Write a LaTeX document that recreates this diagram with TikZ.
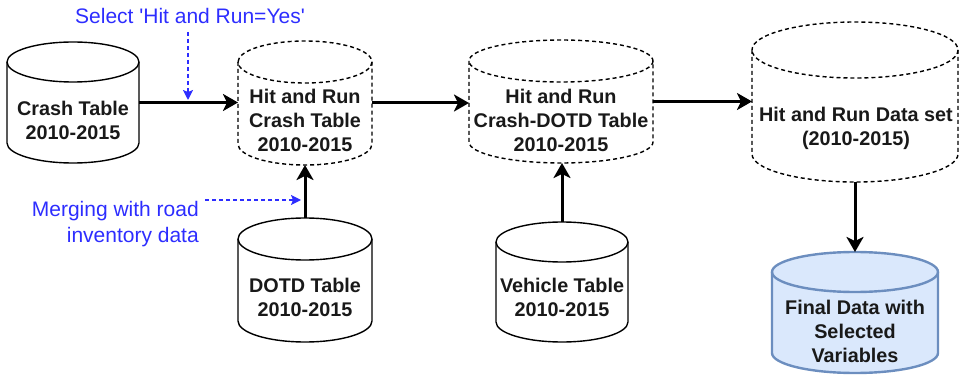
\documentclass[tikz,border=0pt]{standalone}
\usepackage{fontspec}
\setmainfont{Liberation Sans}
\usetikzlibrary{arrows.meta,calc}
\definecolor{blu}{RGB}{45,45,255}
\definecolor{finfill}{HTML}{DAE8FC}
\definecolor{finline}{HTML}{6C8EBF}
\tikzset{
  solidcyl/.style={draw=black,line width=1.4pt},
  dashcyl/.style={draw=black,line width=1.4pt,dash pattern=on 4pt off 3pt},
  fincyl/.style={draw=finline,fill=finfill,line width=2.4pt},
  lbl/.style={font=\bfseries\fontsize{19.8}{24}\selectfont,align=center,inner sep=0pt,text=black!90},
  note/.style={font=\fontsize{21}{26}\selectfont,text=blu,inner sep=0pt},
  arr/.style={line width=3pt,-{Stealth[length=15pt,width=17pt,inset=4pt]}},
  bluarr/.style={blu,line width=1.4pt,dash pattern=on 4pt off 3pt,-{Stealth[length=10pt,width=10pt,inset=2pt]}}
}
% #1 style, #2 name, #3 cx, #4 top (px from top), #5 width, #6 height, #7 ry
\newcommand\dbcyl[7]{%
  \pgfmathsetmacro\crx{#5/2}%
  \path[#1] (#3-\crx,378-#4-#7) -- (#3-\crx,378-#4-#6+#7)
    arc[start angle=180,end angle=360,x radius=\crx,y radius=#7]
    -- (#3+\crx,378-#4-#7)
    arc[start angle=0,end angle=180,x radius=\crx,y radius=#7] -- cycle;
  \path[#1,fill=none] (#3+\crx,378-#4-#7)
    arc[start angle=0,end angle=-180,x radius=\crx,y radius=#7];
  \node[minimum width=#5,minimum height=#6,inner sep=0pt,outer sep=0pt] (#2) at (#3,378-#4-#6/2) {};
}
\begin{document}
\begin{tikzpicture}[x=1pt,y=1pt]
\useasboundingbox (0,0) rectangle (961,378);
% cylinders
\dbcyl{solidcyl}{crash}{73}{42}{132}{121}{20}
\dbcyl{dashcyl}{hrc}{305}{41}{134}{124}{21}
\dbcyl{dashcyl}{hrd}{561}{40}{184}{123}{21}
\dbcyl{dashcyl}{ds}{855}{22}{206}{160}{28}
\dbcyl{solidcyl}{dotd}{305}{218}{134}{124}{21}
\dbcyl{solidcyl}{veh}{562}{222}{132}{120}{20}
\dbcyl{fincyl}{fin}{855}{252}{166}{121}{20}
% labels
\node[lbl] (crashtxt) at (73,378-120.5) {Crash Table\\2010-2015};
\node[lbl] (hrctxt) at (305,378-120) {Hit and Run\\Crash Table\\2010-2015};
\node[lbl] (hrdtxt) at (561,378-120) {Hit and Run\\Crash-DOTD Table\\2010-2015};
\node[lbl] (dstxt) at (856,378-128) {Hit and Run Data set\\(2010-2015)};
\node[lbl] (dotdtxt) at (305,378-297.5) {DOTD Table\\2010-2015};
\node[lbl] (vehtxt) at (562,378-297.5) {Vehicle Table\\2010-2015};
\node[lbl] (fintxt) at (855,378-331) {Final Data with\\Selected\\Variables};
% main arrows
\draw[arr] (crash.east) -- (crash.east -| hrc.west);
\draw[arr] (hrc.east) -- (hrc.east -| hrd.west);
\draw[arr] (hrd.east) -- (hrd.east -| ds.west);
\draw[arr] (dotd.north) -- (hrc.south);
\draw[arr] (veh.north) -- (veh.north |- hrd.south);
\draw[arr] (ds.south) -- (fin.north);
% notes
\node[note,anchor=center] (sel) at (190,378-15.5) {Select \textquotesingle Hit and Run=Yes\textquotesingle};
\coordinate (selend) at (188,378-100);
\draw[bluarr] ($(selend)+(0,68)$) -- (selend);
\node[note,align=right,anchor=north east] (merge) at (199,378-201) {Merging with road\\inventory data};
\coordinate (mergeend) at (301,378-200);
\draw[bluarr] ($(merge.east |- mergeend)+(6,0)$) -- (mergeend);
\end{tikzpicture}
\end{document}
